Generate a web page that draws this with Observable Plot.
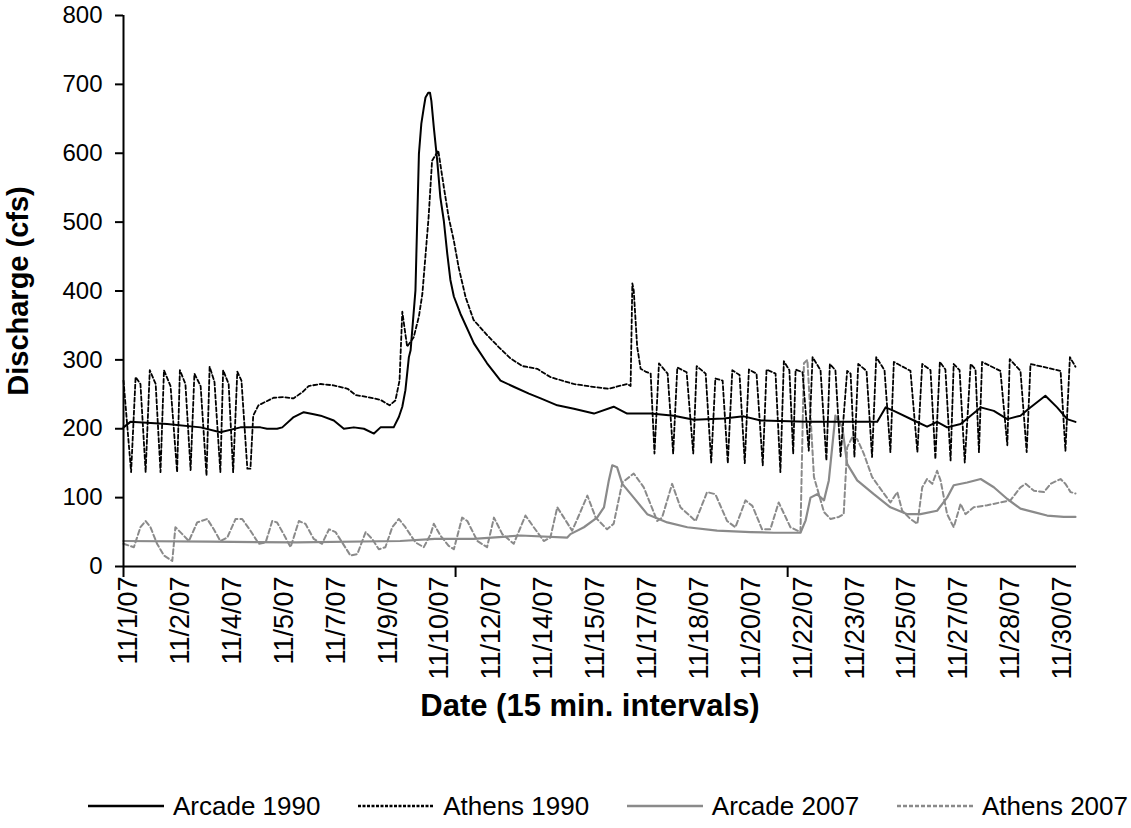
<!DOCTYPE html>
<html>
<head>
<meta charset="utf-8">
<script src="https://cdn.jsdelivr.net/npm/d3@7"></script>
<script src="https://cdn.jsdelivr.net/npm/@observablehq/plot@0.6"></script>
<style>
  html, body { margin: 0; padding: 0; background: #fff; }
  body { position: relative; width: 1131px; height: 828px; overflow: hidden; font-family: "Liberation Sans", Arial, sans-serif; }
  #chart svg { display: block; }
  #legend { position: absolute; left: 88px; width: 1040px; top: 788px; height: 36px; display: flex; justify-content: space-between; align-items: center; font-size: 26px; color: #000; }
  #legend .item { display: flex; align-items: center; gap: 9px; white-space: nowrap; }
  #legend svg { display: block; }
</style>
</head>
<body>
<div id="chart"></div>
<div id="legend"></div>
<script>
// ---- Category axis (15-minute samples; a label every 150 samples) ----
const tickLabels = ["11/1/07","11/2/07","11/4/07","11/5/07","11/7/07","11/9/07","11/10/07","11/12/07","11/14/07","11/15/07","11/17/07","11/18/07","11/20/07","11/22/07","11/23/07","11/25/07","11/27/07","11/28/07","11/30/07"];
const labelStep = 150;
const majorTickSamples = [0, 960, 1920];
const lastSample = 2755;
const yTicks = [0,100,200,300,400,500,600,700,800];

// ---- Arcade 1990 (sample index, cfs) ----
const arcade1990Idx = [0,20,126,223,280,338,396,415,444,459,492,521,550,570,608,637,666,695,724,743,781,796,806,815,825,830,844,854,861,868,873,881,886,890,897,907,916,926,936,945,955,974,1013,1051,1090,1128,1172,1206,1254,1302,1360,1417,1456,1524,1591,1649,1735,1793,1842,1977,2179,2203,2227,2285,2323,2352,2381,2420,2478,2516,2555,2593,2617,2665,2699,2728,2752];
const arcade1990Val = [202,210,207,202,195,202,202,200,200,202,217,224,221,219,212,200,202,200,193,202,202,217,232,256,304,314,401,599,643,666,681,688,688,676,638,589,536,502,454,416,392,367,324,295,270,261,251,244,234,229,222,232,222,222,219,213,215,218,212,210,210,231,226,212,203,210,202,207,231,226,214,219,229,248,231,214,210];

// ---- Athens 1990 ----
const athens1990Idx = [0,22,35,49,64,76,93,107,117,136,155,163,179,194,205,223,240,249,263,280,288,304,317,329,341,358,367,375,390,434,460,491,517,535,570,607,648,671,705,743,769,786,798,806,812,820,839,854,864,882,892,910,926,940,955,969,989,1012,1051,1084,1119,1153,1196,1234,1301,1369,1402,1456,1466,1471,1475,1485,1495,1509,1524,1535,1548,1573,1589,1601,1628,1647,1657,1683,1699,1711,1732,1747,1760,1781,1796,1808,1830,1848,1859,1885,1899,1909,1925,1936,1943,1963,1981,1992,2015,2032,2042,2058,2073,2092,2102,2113,2124,2148,2164,2176,2200,2217,2227,2275,2295,2309,2333,2347,2360,2376,2391,2400,2417,2432,2449,2463,2473,2482,2535,2555,2562,2593,2611,2622,2709,2723,2736,2752];
const athens1990Val = [270,137,275,265,137,285,265,137,285,262,137,285,265,140,280,262,132,290,268,137,285,265,137,283,270,142,142,219,234,245,246,244,253,262,265,263,258,249,246,242,234,241,270,370,348,319,333,363,396,507,589,604,551,507,473,434,391,358,336,319,302,291,287,275,265,260,258,265,262,411,401,319,287,283,280,164,295,280,164,289,282,164,291,280,151,273,270,150,285,278,150,286,280,147,286,280,137,298,285,164,286,282,168,304,285,154,294,285,160,284,280,159,294,284,159,304,285,166,297,284,166,294,285,156,297,286,154,294,285,151,294,286,166,297,284,176,301,284,166,294,284,168,304,290];

// ---- Arcade 2007 ----
const arcade2007Idx = [0,250,500,800,900,916,1012,1148,1283,1292,1331,1369,1389,1403,1413,1427,1442,1475,1514,1572,1630,1716,1813,1880,1957,1972,1986,2005,2025,2039,2058,2078,2092,2121,2169,2217,2266,2304,2352,2381,2400,2439,2478,2516,2555,2593,2632,2670,2718,2752];
const arcade2007Val = [37,36,35,37,40,40,40,45,42,47,57,71,86,125,147,144,120,100,76,64,57,52,50,49,49,67,100,105,96,125,219,202,149,125,105,86,76,76,81,100,118,122,127,115,98,84,79,74,72,72];

// ---- Athens 2007 ----
const athens2007Idx = [0,30,49,64,78,97,117,141,150,170,189,213,242,261,280,300,324,343,367,391,411,430,444,463,483,507,526,550,574,594,613,632,656,676,700,719,738,757,777,796,815,844,868,888,897,916,940,955,979,994,1023,1051,1071,1095,1128,1162,1186,1215,1234,1254,1273,1297,1312,1341,1365,1398,1417,1442,1475,1504,1543,1557,1586,1610,1654,1687,1711,1745,1769,1798,1818,1846,1870,1894,1928,1957,1967,1977,1996,2025,2044,2068,2082,2092,2107,2121,2140,2164,2188,2217,2237,2251,2275,2295,2309,2323,2338,2352,2362,2381,2400,2420,2434,2458,2497,2535,2564,2593,2608,2632,2661,2680,2709,2723,2738,2752];
const athens2007Val = [33,28,57,66,57,33,16,8,57,47,37,64,69,54,37,42,69,69,52,33,35,66,64,47,28,66,62,40,33,54,50,35,16,18,50,40,25,28,57,69,57,35,28,47,62,45,30,25,71,66,37,28,71,47,33,74,57,37,42,86,71,52,69,103,71,54,62,122,135,115,66,71,120,86,66,108,105,66,57,96,88,54,54,93,57,50,295,300,130,79,69,72,76,173,188,185,164,130,113,93,108,81,69,62,115,127,120,139,125,76,57,91,76,86,89,93,96,115,120,110,108,120,127,120,108,106];

const seriesNames = ["Arcade 1990", "Athens 1990", "Arcade 2007", "Athens 2007"];

const GRAY = "#8a8a8a";
const styles = {
  "Arcade 1990": {stroke: "#000", strokeWidth: 2, dash: null},
  "Athens 1990": {stroke: "#000", strokeWidth: 1.8, dash: "4,2.5"},
  "Arcade 2007": {stroke: GRAY, strokeWidth: 2.2, dash: null},
  "Athens 2007": {stroke: GRAY, strokeWidth: 2, dash: "5,3"}
};

function rows(idx, val) { return idx.map((x, i) => ({x, y: val[i]})); }
const data = {
  "Arcade 1990": rows(arcade1990Idx, arcade1990Val),
  "Athens 1990": rows(athens1990Idx, athens1990Val),
  "Arcade 2007": rows(arcade2007Idx, arcade2007Val),
  "Athens 2007": rows(athens2007Idx, athens2007Val)
};

const labelPositions = tickLabels.map((_, i) => i * labelStep);
const drawOrder = ["Athens 2007", "Arcade 2007", "Athens 1990", "Arcade 1990"];

const chart = Plot.plot({
  width: 1131,
  height: 770,
  marginTop: 15,
  marginLeft: 123,
  marginRight: 55,
  marginBottom: 204,
  style: {fontFamily: '"Liberation Sans", Arial, sans-serif', color: "#000", background: "#fff"},
  x: {domain: [0, lastSample]},
  y: {domain: [0, 800]},
  marks: [
    ...drawOrder.map(name => Plot.line(data[name], {
      x: "x", y: "y",
      stroke: styles[name].stroke,
      strokeWidth: styles[name].strokeWidth,
      strokeDasharray: styles[name].dash,
      curve: "linear"
    })),
    Plot.axisY({ticks: yTicks, tickSize: 8, tickPadding: 13, fontSize: 24, label: null, strokeWidth: 2}),
    Plot.axisX({ticks: labelPositions, tickFormat: d => tickLabels[Math.round(d / labelStep)], tickRotate: -90, tickSize: 0, tickPadding: 10, dx: 5, fontSize: 27, label: null}),
    Plot.axisX({ticks: majorTickSamples, tickFormat: () => "", tickSize: 11, label: null, strokeWidth: 2}),
    Plot.ruleY([0], {stroke: "#000", strokeWidth: 2}),
    Plot.ruleX([0], {stroke: "#000", strokeWidth: 2}),
    Plot.text(["Discharge (cfs)"], {frameAnchor: "left", dx: -105, rotate: -90, textAnchor: "middle", fontSize: 29, fontWeight: "bold", fill: "#000"}),
    Plot.text(["Date (15 min. intervals)"], {frameAnchor: "bottom", dx: -10, dy: 149, textAnchor: "middle", fontSize: 31, fontWeight: "bold", fill: "#000"})
  ]
});
document.getElementById("chart").appendChild(chart);

// ---- Legend ----
const legend = document.getElementById("legend");
for (const name of seriesNames) {
  const s = styles[name];
  const item = document.createElement("div");
  item.className = "item";
  const dash = s.dash ? ` stroke-dasharray="${name === "Athens 1990" ? "3,1.5" : "4,2"}"` : "";
  item.innerHTML = `<svg width="76" height="10"><line x1="0" y1="5" x2="76" y2="5" stroke="${s.stroke}" stroke-width="${s.strokeWidth + 0.5}"${dash}/></svg><span>${name}</span>`;
  legend.appendChild(item);
}
</script>
</body>
</html>
